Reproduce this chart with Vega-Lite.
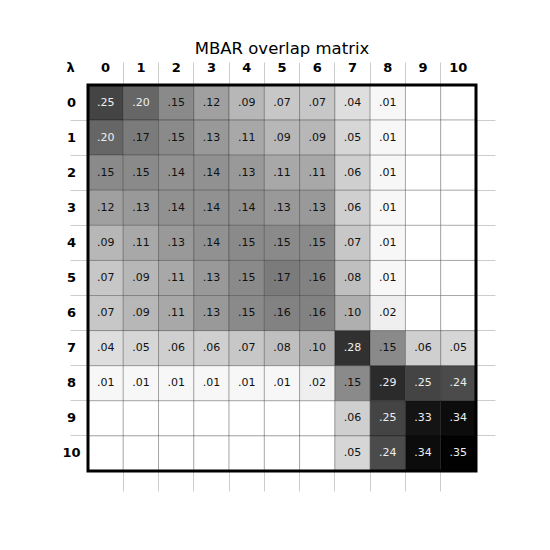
{
  "$schema": "https://vega.github.io/schema/vega-lite/v6.json",
  "autosize": {"type": "none"},
  "width": 388,
  "height": 386,
  "padding": {"left": 88, "top": 85, "right": 74, "bottom": 79},
  "background": "white",
  "title": {"text": "MBAR overlap matrix", "font": "DejaVu Sans", "fontSize": 16.5, "fontWeight": "normal", "color": "black", "offset": 4},
  "config": {
    "font": "DejaVu Sans",
    "style": {"cell": {"stroke": "black", "strokeWidth": 3, "strokeForeground": true}},
    "axis": {"domain": false, "grid": false, "tickColor": "#cccccc", "tickWidth": 1, "bandPosition": 0,
             "labelFont": "DejaVu Sans", "labelFontSize": 13, "labelFontWeight": "bold", "labelColor": "black",
             "tickOpacity": {"condition": {"test": "datum.value == 0", "value": 0}, "value": 1}}
  },
  "data": {"values": [
    {"r":0,"c":0,"v":0.25},{"r":0,"c":1,"v":0.20},{"r":0,"c":2,"v":0.15},{"r":0,"c":3,"v":0.12},{"r":0,"c":4,"v":0.09},{"r":0,"c":5,"v":0.07},{"r":0,"c":6,"v":0.07},{"r":0,"c":7,"v":0.04},{"r":0,"c":8,"v":0.01},{"r":0,"c":9,"v":0},{"r":0,"c":10,"v":0},
    {"r":1,"c":0,"v":0.20},{"r":1,"c":1,"v":0.17},{"r":1,"c":2,"v":0.15},{"r":1,"c":3,"v":0.13},{"r":1,"c":4,"v":0.11},{"r":1,"c":5,"v":0.09},{"r":1,"c":6,"v":0.09},{"r":1,"c":7,"v":0.05},{"r":1,"c":8,"v":0.01},{"r":1,"c":9,"v":0},{"r":1,"c":10,"v":0},
    {"r":2,"c":0,"v":0.15},{"r":2,"c":1,"v":0.15},{"r":2,"c":2,"v":0.14},{"r":2,"c":3,"v":0.14},{"r":2,"c":4,"v":0.13},{"r":2,"c":5,"v":0.11},{"r":2,"c":6,"v":0.11},{"r":2,"c":7,"v":0.06},{"r":2,"c":8,"v":0.01},{"r":2,"c":9,"v":0},{"r":2,"c":10,"v":0},
    {"r":3,"c":0,"v":0.12},{"r":3,"c":1,"v":0.13},{"r":3,"c":2,"v":0.14},{"r":3,"c":3,"v":0.14},{"r":3,"c":4,"v":0.14},{"r":3,"c":5,"v":0.13},{"r":3,"c":6,"v":0.13},{"r":3,"c":7,"v":0.06},{"r":3,"c":8,"v":0.01},{"r":3,"c":9,"v":0},{"r":3,"c":10,"v":0},
    {"r":4,"c":0,"v":0.09},{"r":4,"c":1,"v":0.11},{"r":4,"c":2,"v":0.13},{"r":4,"c":3,"v":0.14},{"r":4,"c":4,"v":0.15},{"r":4,"c":5,"v":0.15},{"r":4,"c":6,"v":0.15},{"r":4,"c":7,"v":0.07},{"r":4,"c":8,"v":0.01},{"r":4,"c":9,"v":0},{"r":4,"c":10,"v":0},
    {"r":5,"c":0,"v":0.07},{"r":5,"c":1,"v":0.09},{"r":5,"c":2,"v":0.11},{"r":5,"c":3,"v":0.13},{"r":5,"c":4,"v":0.15},{"r":5,"c":5,"v":0.17},{"r":5,"c":6,"v":0.16},{"r":5,"c":7,"v":0.08},{"r":5,"c":8,"v":0.01},{"r":5,"c":9,"v":0},{"r":5,"c":10,"v":0},
    {"r":6,"c":0,"v":0.07},{"r":6,"c":1,"v":0.09},{"r":6,"c":2,"v":0.11},{"r":6,"c":3,"v":0.13},{"r":6,"c":4,"v":0.15},{"r":6,"c":5,"v":0.16},{"r":6,"c":6,"v":0.16},{"r":6,"c":7,"v":0.10},{"r":6,"c":8,"v":0.02},{"r":6,"c":9,"v":0},{"r":6,"c":10,"v":0},
    {"r":7,"c":0,"v":0.04},{"r":7,"c":1,"v":0.05},{"r":7,"c":2,"v":0.06},{"r":7,"c":3,"v":0.06},{"r":7,"c":4,"v":0.07},{"r":7,"c":5,"v":0.08},{"r":7,"c":6,"v":0.10},{"r":7,"c":7,"v":0.28},{"r":7,"c":8,"v":0.15},{"r":7,"c":9,"v":0.06},{"r":7,"c":10,"v":0.05},
    {"r":8,"c":0,"v":0.01},{"r":8,"c":1,"v":0.01},{"r":8,"c":2,"v":0.01},{"r":8,"c":3,"v":0.01},{"r":8,"c":4,"v":0.01},{"r":8,"c":5,"v":0.01},{"r":8,"c":6,"v":0.02},{"r":8,"c":7,"v":0.15},{"r":8,"c":8,"v":0.29},{"r":8,"c":9,"v":0.25},{"r":8,"c":10,"v":0.24},
    {"r":9,"c":0,"v":0},{"r":9,"c":1,"v":0},{"r":9,"c":2,"v":0},{"r":9,"c":3,"v":0},{"r":9,"c":4,"v":0},{"r":9,"c":5,"v":0},{"r":9,"c":6,"v":0},{"r":9,"c":7,"v":0.06},{"r":9,"c":8,"v":0.25},{"r":9,"c":9,"v":0.33},{"r":9,"c":10,"v":0.34},
    {"r":10,"c":0,"v":0},{"r":10,"c":1,"v":0},{"r":10,"c":2,"v":0},{"r":10,"c":3,"v":0},{"r":10,"c":4,"v":0},{"r":10,"c":5,"v":0},{"r":10,"c":6,"v":0},{"r":10,"c":7,"v":0.05},{"r":10,"c":8,"v":0.24},{"r":10,"c":9,"v":0.34},{"r":10,"c":10,"v":0.35}
  ]},
  "resolve": {"axis": {"x": "independent", "y": "independent"}},
  "layer": [
    {
      "mark": {"type": "rect", "stroke": "black", "strokeOpacity": 0.25, "strokeWidth": 1},
      "encoding": {
        "x": {"field": "c", "type": "ordinal", "scale": {"paddingInner": 0, "paddingOuter": 0},
              "axis": {"orient": "top", "title": null, "labelAngle": 0, "tickSize": 23, "labelPadding": -5, "labelBaseline": "middle", "labelAlign": "center"}},
        "y": {"field": "r", "type": "ordinal", "scale": {"paddingInner": 0, "paddingOuter": 0},
              "axis": {"orient": "left", "title": "λ", "titleAngle": 0, "titleX": -18, "titleY": -18, "titleAlign": "center", "titleBaseline": "middle",
                       "titleFont": "DejaVu Sans", "titleFontSize": 13, "titleFontWeight": "bold", "titleColor": "black",
                       "tickSize": 18, "labelPadding": -1, "labelAlign": "center", "labelBaseline": "middle"}},
        "color": {"field": "v", "type": "quantitative", "scale": {"domain": [0, 0.352], "range": ["#ffffff", "#000000"]}, "legend": null}
      }
    },
    {
      "transform": [
        {"filter": "datum.v >= 0.005"},
        {"calculate": "replace(format(datum.v, '.2f'), /^0/, '')", "as": "label"}
      ],
      "mark": {"type": "text", "font": "DejaVu Sans", "fontSize": 11, "align": "center", "baseline": "middle"},
      "encoding": {
        "x": {"field": "c", "type": "ordinal", "axis": null},
        "y": {"field": "r", "type": "ordinal", "axis": null},
        "text": {"field": "label"},
        "color": {"condition": {"test": "datum.v >= 0.19", "value": "#eeeeee"}, "value": "#111111"}
      }
    },
    {
      "mark": {"type": "rect", "opacity": 0},
      "encoding": {
        "x": {"field": "c", "type": "ordinal", "axis": {"orient": "bottom", "title": null, "labels": false, "tickSize": 20}},
        "y": {"field": "r", "type": "ordinal", "axis": {"orient": "right", "title": null, "labels": false, "tickSize": 19}}
      }
    }
  ]
}
